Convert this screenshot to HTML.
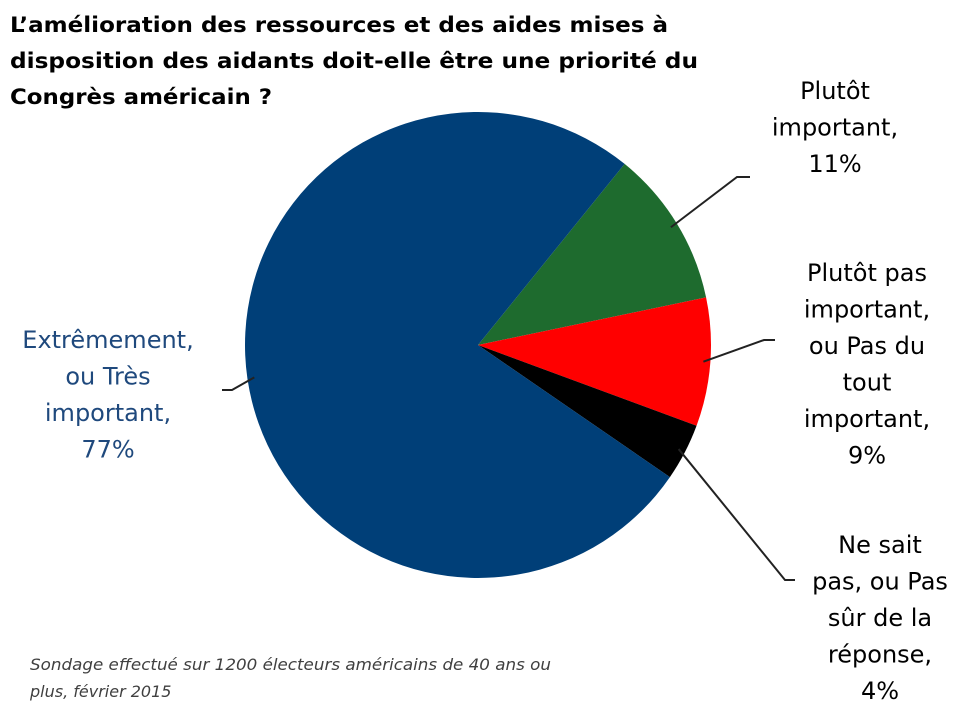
<!DOCTYPE html>
<html><head><meta charset="utf-8"><style>
body{margin:0;background:#fff;}
svg{display:block;font-family:"DejaVu Sans","Liberation Sans",sans-serif;}
</style></head><body>
<svg width="960" height="720">
<g font-size="21" font-weight="bold" fill="#000">
<text x="10" y="32" textLength="658" lengthAdjust="spacingAndGlyphs">L’amélioration des ressources et des aides mises à</text>
<text x="10" y="68" textLength="688" lengthAdjust="spacingAndGlyphs">disposition des aidants doit-elle être une priorité du</text>
<text x="10" y="104" textLength="262" lengthAdjust="spacingAndGlyphs">Congrès américain ?</text>
</g>
<g id="slices"></g>
<g id="labels" font-size="24" text-anchor="middle"></g>
<g font-size="16" font-style="italic" fill="#404040">
<text x="30" y="670" textLength="521" lengthAdjust="spacingAndGlyphs">Sondage effectué sur 1200 électeurs américains de 40 ans ou</text>
<text x="30" y="697">plus, février 2015</text>
</g>
</svg>
<script>
const categories=["Plutôt important","Plutôt pas important, ou Pas du tout important","Ne sait pas, ou Pas sûr de la réponse","Extrêmement, ou Très important"];
const values=[11,9,4,77];
const colors=["#1e6b2e","#ff0000","#000000","#003f78"];
const labelLines=[["Plutôt","important,","11%"],["Plutôt pas","important,","ou Pas du","tout","important,","9%"],["Ne sait","pas, ou Pas","sûr de la","réponse,","4%"],["Extrêmement,","ou Très","important,","77%"]];
const cx=478,cy=345,r=233,start=39;
const ns="http://www.w3.org/2000/svg";
const total=values.reduce((a,b)=>a+b,0);
function pt(a,rr){const t=a*Math.PI/180;return [cx+rr*Math.sin(t),cy-rr*Math.cos(t)];}
const gs=document.getElementById('slices'),gl=document.getElementById('labels');
const labelPos=[[835,99],[867,281],[880,553],[108,348]];
const elbows=[[[737,177],[750,177]],[[764,340],[775,340]],[[785,580],[795,580]],[[232,390],[222,390]]];
let a=start;
values.forEach((v,i)=>{
 const sw=v/total*360,a2=a+sw;
 const p1=pt(a,r),p2=pt(a2,r);
 const path=document.createElementNS(ns,'path');
 path.setAttribute('d',`M${cx},${cy}L${p1[0]},${p1[1]}A${r},${r} 0 ${sw>180?1:0} 1 ${p2[0]},${p2[1]}Z`);
 path.setAttribute('fill',colors[i]);
 
 
 gs.appendChild(path);
 const mid=pt(a+sw/2,r*0.97);
 const ln=document.createElementNS(ns,'polyline');
 ln.setAttribute('points',`${mid[0]},${mid[1]} ${elbows[i][0].join(',')} ${elbows[i][1].join(',')}`);
 ln.setAttribute('fill','none');ln.setAttribute('stroke','#222');ln.setAttribute('stroke-width','2');
 
 
 gs.appendChild(ln);
 const t=document.createElementNS(ns,'text');
 
 
 t.setAttribute('fill',i==3?'#1f497d':'#000');
 labelLines[i].forEach((s,j)=>{const sp=document.createElementNS(ns,'tspan');sp.setAttribute('x',labelPos[i][0]);sp.setAttribute('y',labelPos[i][1]+j*36.5);sp.textContent=s;t.appendChild(sp);});
 gl.appendChild(t);
 a=a2;
});
</script>
</body></html>
